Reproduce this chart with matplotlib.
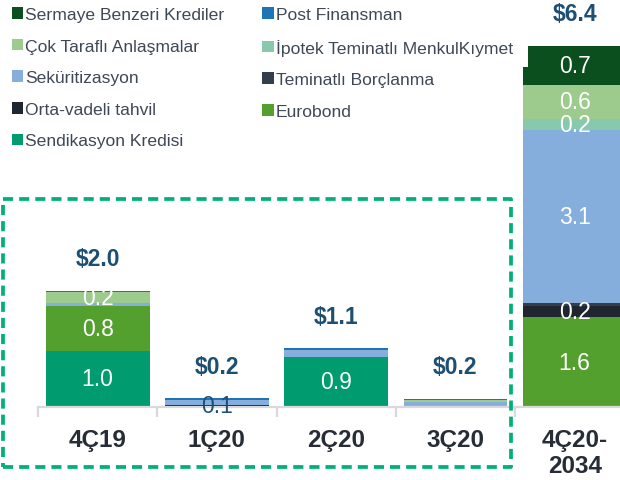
import matplotlib
matplotlib.use("Agg")
import matplotlib.pyplot as plt
from matplotlib import font_manager
from matplotlib.patches import Patch, Rectangle

# Data (USD bn)
categories = ["4Ç19", "1Ç20", "2Ç20", "3Ç20", "4Ç20-\n2034"]
totals = [2.0, 0.2, 1.1, 0.2, 6.4]

sendikasyon = [1.0, 0.0, 0.9, 0.0, 0.0]
eurobond = [0.8, 0.0, 0.0, 0.0, 1.6]
orta_vadeli = [0.0, 0.03, 0.0, 0.0, 0.2]
teminatli = [0.0, 0.0, 0.0, 0.0, 0.05]
sekuritizasyon = [0.05, 0.1, 0.12, 0.09, 3.1]
ipotek = [0.0, 0.0, 0.0, 0.0, 0.2]
cok_tarafli = [0.2, 0.0, 0.0, 0.03, 0.6]
post_finansman = [0.025, 0.025, 0.025, 0.025, 0.0]
sermaye = [0.0, 0.0, 0.0, 0.0, 0.7]

# stacking order, bottom to top
stack = [
    ("Sendikasyon Kredisi", sendikasyon, "#009b6f"),
    ("Eurobond", eurobond, "#54a02e"),
    ("Orta-vadeli tahvil", orta_vadeli, "#1f262f"),
    ("Teminatlı Borçlanma", teminatli, "#323e4c"),
    ("Seküritizasyon", sekuritizasyon, "#85aedc"),
    ("İpotek Teminatlı MenkulKıymet", ipotek, "#86c9ad"),
    ("Çok Taraflı Anlaşmalar", cok_tarafli, "#9dcb8e"),
    ("Post Finansman", post_finansman, "#1d75b8"),
    ("Sermaye Benzeri Krediler", sermaye, "#0b4f1e"),
]
legend_order = [
    "Sermaye Benzeri Krediler", "Çok Taraflı Anlaşmalar", "Seküritizasyon",
    "Orta-vadeli tahvil", "Sendikasyon Kredisi",
    "Post Finansman", "İpotek Teminatlı MenkulKıymet", "Teminatlı Borçlanma", "Eurobond",
]

names = {f.name for f in font_manager.fontManager.ttflist}
base_font = "Liberation Sans" if "Liberation Sans" in names else "DejaVu Sans"
narrow_font = "Liberation Sans Narrow" if "Liberation Sans Narrow" in names else base_font
plt.rcParams["font.family"] = [base_font, "DejaVu Sans"]

W, H = 620, 481
fig = plt.figure(figsize=(6.2, 4.81), dpi=100)
ax = fig.add_axes([38 / W, 73 / H, 582 / W, 408 / H])
ax.set_xlim(-0.5, 4.38)
ax.set_ylim(0, 408 / 56)

x = list(range(len(categories)))
bottoms = [0.0] * len(categories)
colors = {}
for name, vals, col in stack:
    colors[name] = col
    ax.bar(x, vals, bottom=bottoms, width=0.87, color=col, linewidth=0)
    for i, v in enumerate(vals):
        if v >= 0.15:
            ax.text(i, bottoms[i] + v / 2, f"{v:.1f}", ha="center", va="center",
                    color="white", fontsize=16.5, family=narrow_font)
    bottoms = [b + v for b, v in zip(bottoms, vals)]

# small value on 1Ç20 written in dark blue
ax.text(1, orta_vadeli[1] + sekuritizasyon[1] / 2 - 0.05, f"{sekuritizasyon[1]:.1f}",
        ha="center", va="center", color="#1d4f73", fontsize=16.5, family=narrow_font)

for i, t in enumerate(totals):
    ax.annotate(f"${t:.1f}", (i, bottoms[i]), xytext=(0, 23), textcoords="offset points",
                ha="center", va="center", fontsize=16.5, fontweight="bold",
                color="#1d4f73", family=narrow_font)

for s in ["top", "right", "left"]:
    ax.spines[s].set_visible(False)
ax.spines["bottom"].set_color("#d9d9d9")
ax.spines["bottom"].set_linewidth(1.6)
ax.set_yticks([])
ax.set_xticks(x)
ax.set_xticklabels(categories, fontsize=17.5, fontweight="bold", color="#262d36")
ax.tick_params(axis="x", length=0, pad=15)
ax.set_xticks([-0.5, 0.5, 1.5, 2.5, 3.5], minor=True)
ax.tick_params(axis="x", which="minor", length=7, width=1.6, color="#d9d9d9")

# white backing behind the long legend entry (cuts the corner of the last bar)
fig.patches.append(Rectangle((495 / W, (H - 68) / H), 33 / W, 32 / H, transform=fig.transFigure,
                             facecolor="white", edgecolor="none"))

handles = [Patch(facecolor=colors[n], edgecolor="none") for n in legend_order]
leg = fig.legend(handles, legend_order, loc="upper left", bbox_to_anchor=(12 / W, 1 - 8 / H),
                 ncol=2, frameon=False, fontsize=12.6, handlelength=0.65, handleheight=0.65,
                 handletextpad=0.12, columnspacing=2.15, labelspacing=0.95, borderpad=0,
                 borderaxespad=0, labelcolor="#3f4855")

# dashed highlight box around the quarterly bars
fig.patches.append(Rectangle((3 / W, 13 / H), 508 / W, 268 / H, transform=fig.transFigure,
                             fill=False, edgecolor="#00b07a", linewidth=2.7,
                             linestyle=(0, (2.7, 1.6)), joinstyle="round"))

fig.savefig("out.png", dpi=100)
